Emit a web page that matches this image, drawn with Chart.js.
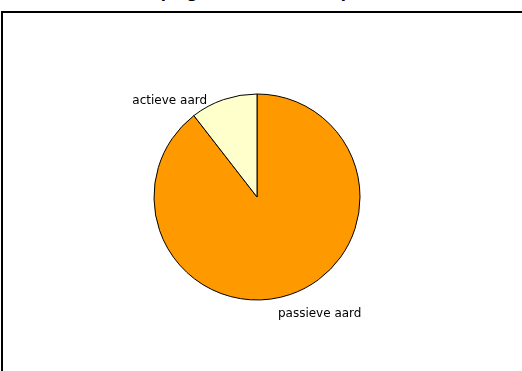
<!DOCTYPE html>
<html>
<head>
<meta charset="utf-8">
<script src="https://cdn.jsdelivr.net/npm/chart.js@4/dist/chart.umd.min.js"></script>
<style>
html,body{margin:0;padding:0;background:#fff;overflow:hidden;width:522px;height:371px}
#title{position:absolute;left:133px;top:-16px;line-height:15px;font:bold 15px "DejaVu Sans",Verdana,sans-serif;color:#000;white-space:nowrap}
#box{position:absolute;left:1px;top:11px;width:700px;height:500px;border:2px solid #000}
#wrap{position:absolute;left:0;top:0;width:522px;height:371px}
</style>
</head>
<body>
<div id="title">Diepe grond: actieve en passieve aard</div>
<div id="box"></div>
<div id="wrap"><canvas id="myChart" width="522" height="371"></canvas></div>
<script>
// values
let labels=["passieve aard","actieve aard"]
let values=[89.5,10.5]
let colors=["#FF9900","#FFFFCC"]

// slice labels outside the pie, like the original
const sliceLabels={
  id:'sliceLabels',
  afterDatasetsDraw(chart){
    const ctx=chart.ctx
    const meta=chart.getDatasetMeta(0)
    ctx.save()
    ctx.font='12px "DejaVu Sans", Verdana, sans-serif'
    ctx.fillStyle='#000'
    ctx.textBaseline='middle'
    meta.data.forEach((arc,i)=>{
      const p=arc.getProps(['x','y','startAngle','endAngle','outerRadius'],true)
      const mid=(p.startAngle+p.endAngle)/2
      const ax=p.x+Math.cos(mid)*(p.outerRadius+11)
      const ay=p.y+Math.sin(mid)*(p.outerRadius+11)
      if(Math.cos(mid)<0){
        ctx.textAlign='right'
        ctx.fillText(chart.data.labels[i],ax-13,ay+12)
      }else{
        ctx.textAlign='left'
        ctx.fillText(chart.data.labels[i],ax-16,ay+9)
      }
    })
    ctx.restore()
  }
}

const ctx=document.getElementById('myChart')
new Chart(ctx,{
  type:'pie',
  data:{
    labels:labels,
    datasets:[{
      data:values,
      backgroundColor:colors,
      borderColor:'#000',
      borderWidth:1
    }]
  },
  options:{
    responsive:false,
    animation:false,
    radius:103,
    layout:{padding:{left:0,right:8,top:23,bottom:0}},
    plugins:{legend:{display:false},tooltip:{enabled:false}}
  },
  plugins:[sliceLabels]
})
</script>
</body>
</html>
